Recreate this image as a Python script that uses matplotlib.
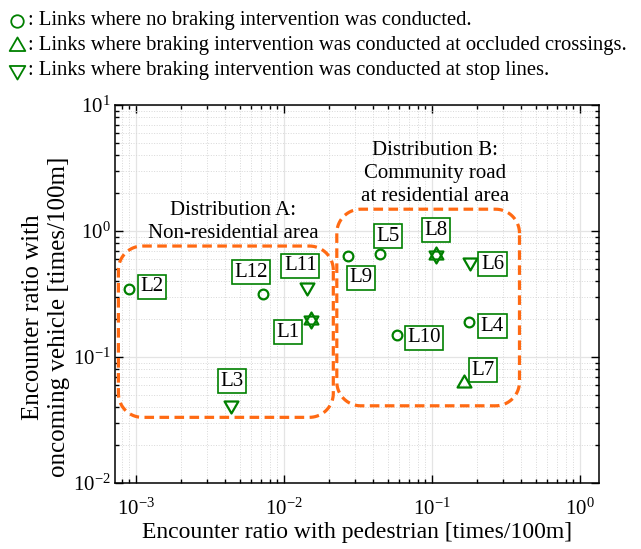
import numpy as np
import matplotlib
matplotlib.use("Agg")
from matplotlib import pyplot as plt
from matplotlib.lines import Line2D
from matplotlib.path import Path

plt.rcParams['font.family'] = ['Liberation Serif', 'DejaVu Serif']
plt.rcParams['mathtext.fontset'] = 'custom'
plt.rcParams['mathtext.rm'] = 'Liberation Serif'

GREEN = '#008000'
ORANGE = '#ff6a13'

# link data: encounter ratios [times/100m]
links = ['L1', 'L2', 'L3', 'L4', 'L5', 'L6', 'L7', 'L8', 'L9', 'L10', 'L11', 'L12']
ped = [0.0153, 0.00089, 0.00437, 0.177, 0.0441, 0.181, 0.163, 0.1064, 0.0272, 0.0583, 0.01435, 0.00724]
veh = [0.197, 0.344, 0.0416, 0.189, 0.653, 0.571, 0.0625, 0.645, 0.637, 0.150, 0.361, 0.315]
# braking intervention: 'none', 'occluded' (up), 'stop' (down), 'both'
braking = ['both', 'none', 'stop', 'none', 'none', 'stop', 'occluded', 'both', 'none', 'none', 'stop', 'none']

# label offsets in points from each marker
label_off = {
    'L1': (-17, -9), 'L2': (17, 2), 'L3': (1, 17), 'L4': (17, -3),
    'L5': (6, 13), 'L6': (16, -2), 'L7': (14, 9), 'L8': (0, 18),
    'L9': (9, -16), 'L10': (19, -2), 'L11': (-5, 15), 'L12': (-9, 16),
}

# triangles centred on their centroid so up + down overlap as a star
tri_up = Path([(0, 1), (-0.866, -0.5), (0.866, -0.5), (0, 1)], closed=True)
tri_dn = Path([(0, -1), (-0.866, 0.5), (0.866, 0.5), (0, -1)], closed=True)

fig = plt.figure(figsize=(6.41, 5.49), dpi=100)
ax = fig.add_axes([0.179, 0.1202, 0.7555, 0.6885])
ax.set_xscale('log')
ax.set_yscale('log')
ax.set_xlim(7.18e-4, 1.34)
ax.set_ylim(1e-2, 1e1)

ax.grid(True, which='major', color='#e4e4e4', lw=0.9, ls='-')
ax.grid(True, which='minor', color='#d8d8d8', lw=0.7, ls=':')
ax.set_axisbelow(True)
ax.tick_params(which='both', direction='in', top=True, right=True, labelsize=15, width=1)
ax.tick_params(which='major', length=6)
ax.tick_params(which='minor', length=3)
ax.tick_params(axis='x', pad=11)
ax.tick_params(axis='y', pad=3)
for s in ax.spines.values():
    s.set_linewidth(1.1)

for x, y, b in zip(ped, veh, braking):
    if b == 'none':
        ax.plot(x, y, 'o', ms=7, mfc='none', mec=GREEN, mew=1.6, zorder=4)
    if b in ('occluded', 'both'):
        ax.plot(x, y, marker=tri_up, ms=11.5, mfc='none', mec=GREEN, mew=1.6, zorder=4)
    if b in ('stop', 'both'):
        ax.plot(x, y, marker=tri_dn, ms=11.5, mfc='none', mec=GREEN, mew=1.6, zorder=4)

for name, x, y in zip(links, ped, veh):
    ax.annotate(name, (x, y), xytext=label_off[name], textcoords='offset points',
                ha='center', va='center', fontsize=15, zorder=5,
                bbox=dict(boxstyle='square,pad=0.12', fc='white', ec=GREEN, lw=1.2))


def rounded_box(x0, x1, y0, y1, r=24):
    # rounded rectangle in axes fraction, corners circular in pixels
    bb = ax.get_window_extent()
    p0 = ax.transData.transform((x0, y0))
    p1 = ax.transData.transform((x1, y1))
    rx, ry = r / bb.width, r / bb.height
    a0 = (p0 - [bb.x0, bb.y0]) / [bb.width, bb.height]
    a1 = (p1 - [bb.x0, bb.y0]) / [bb.width, bb.height]
    t = np.linspace(0, np.pi / 2, 20)
    pts = []
    for cx, cy, start in [(a1[0] - rx, a1[1] - ry, 0), (a0[0] + rx, a1[1] - ry, np.pi / 2),
                          (a0[0] + rx, a0[1] + ry, np.pi), (a1[0] - rx, a0[1] + ry, 1.5 * np.pi)]:
        pts += list(zip(cx + rx * np.cos(t + start), cy + ry * np.sin(t + start)))
    pts.append(pts[0])
    ax.plot(*zip(*pts), transform=ax.transAxes, color=ORANGE, lw=2.3,
            ls=(0, (3.0, 1.7)), zorder=3, clip_on=False)


rounded_box(7.6e-4, 0.0215, 0.0332, 0.76)
rounded_box(0.0227, 0.389, 0.041, 1.49)

ax.text(0.00455, 0.80, 'Distribution A:\nNon-residential area', ha='center', va='bottom',
        fontsize=15, linespacing=1.3)
ax.text(0.1045, 1.58, 'Distribution B:\nCommunity road\nat residential area', ha='center',
        va='bottom', fontsize=15, linespacing=1.3)

ax.set_xlabel('Encounter ratio with pedestrian [times/100m]', fontsize=17, labelpad=2)
ax.set_ylabel('Encounter ratio with\noncoming vehicle [times/100m]', fontsize=18,
              linespacing=1.25)
ax.yaxis.set_label_coords(-0.092, 0.44)

# marker key above the axes
key = [('o', ': Links where no braking intervention was conducted.'),
       (tri_up, ': Links where braking intervention was conducted at occluded crossings.'),
       (tri_dn, ': Links where braking intervention was conducted at stop lines.')]
for i, (m, txt) in enumerate(key):
    yk = 1 - (21 + 24.5 * i) / 549
    fig.add_artist(Line2D([17 / 641], [yk], marker=m, ms=9 if m == 'o' else 13, mfc='none',
                          mec=GREEN, mew=1.3, transform=fig.transFigure))
    fig.text(28 / 641, yk, txt, ha='left', va='center', fontsize=14.9)

fig.savefig('out.png', dpi=100)
